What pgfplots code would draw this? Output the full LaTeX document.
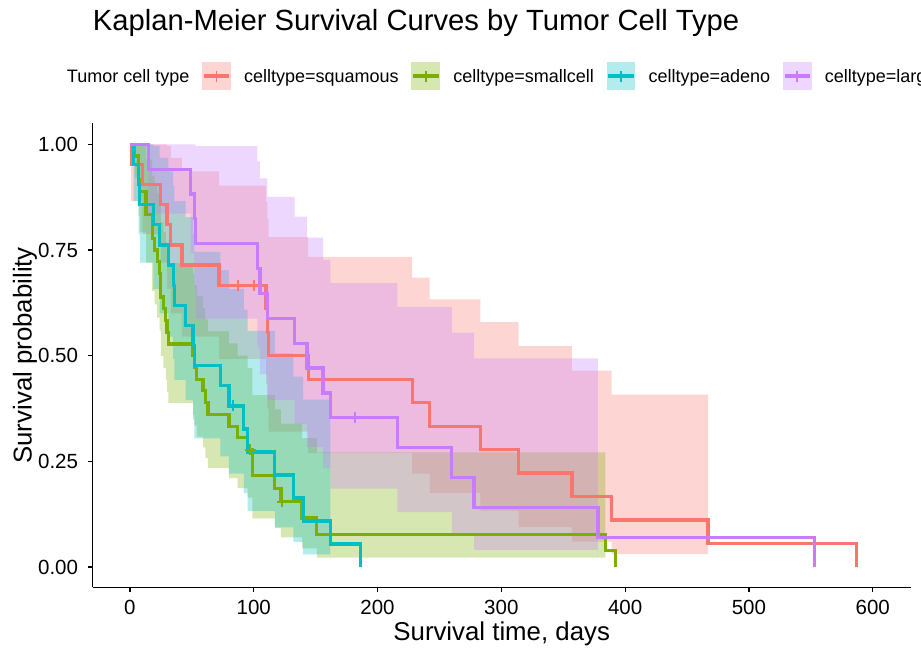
\documentclass[border=0pt]{standalone}
\usepackage{fontspec}
\setmainfont{Liberation Sans}
\usepackage{pgfplots}
\pgfplotsset{compat=1.18}
\usepackage{pgfplotstable}
\usepgfplotslibrary{fillbetween}

\definecolor{csq}{HTML}{F8766D}
\definecolor{csm}{HTML}{7CAE00}
\definecolor{cad}{HTML}{00BFC4}
\definecolor{cla}{HTML}{C77CFF}

% Kaplan-Meier estimates with 95% log CIs
\pgfplotstableread{
t S lo up
0 1 1 1
1 0.95238 0.86551 1
10 0.90476 0.78753 1
25 0.85714 0.71981 1
30 0.80952 0.65785 0.99617
33 0.76190 0.59987 0.96770
42 0.71429 0.54498 0.93616
72 0.66667 0.49267 0.90211
110 0.61111 0.43183 0.86482
111 0.55556 0.37452 0.82410
112 0.5 0.32035 0.78039
144 0.44444 0.26915 0.73390
228 0.38889 0.22084 0.68480
242 0.33333 0.17549 0.63315
283 0.27778 0.13325 0.57907
314 0.22222 0.09447 0.52274
357 0.16667 0.05977 0.46478
389 0.11111 0.03026 0.40803
467 0.05556 0.00830 0.37170
587 0 nan nan
}\sq

\pgfplotstableread{
t S lo up
0 1 1 1
4 0.97222 0.91999 1
7 0.91667 0.83068 1
8 0.88889 0.79193 0.99772
13 0.83333 0.72007 0.96442
18 0.77778 0.65317 0.92616
20 0.75 0.62109 0.90567
22 0.72222 0.58977 0.88441
24 0.69444 0.55915 0.86246
25 0.63889 0.49977 0.81675
27 0.61111 0.47092 0.79304
29 0.58333 0.44260 0.76882
30 0.55556 0.41480 0.74408
31 0.52778 0.38748 0.71887
51 0.5 0.36066 0.69318
52 0.47222 0.33432 0.66701
54 0.44444 0.30846 0.64037
59 0.41667 0.28309 0.61327
61 0.38889 0.25822 0.58569
63 0.36111 0.23385 0.55763
80 0.33333 0.21001 0.52907
87 0.30556 0.18673 0.50001
95 0.27778 0.16404 0.47039
99 0.21605 0.11484 0.40646
117 0.18519 0.09190 0.37315
122 0.15432 0.07027 0.33891
139 0.11574 0.04392 0.30502
151 0.07716 0.02196 0.27112
384 0.03858 0.00594 0.25053
392 0 nan nan
}\sm

\pgfplotstableread{
t S lo up
0 1 1 1
3 0.95238 0.86551 1
7 0.90476 0.78753 1
8 0.85714 0.71981 1
19 0.80952 0.65785 0.99617
24 0.76190 0.59987 0.96770
31 0.71429 0.54498 0.93616
35 0.66667 0.49267 0.90211
36 0.61905 0.44259 0.86585
45 0.57143 0.39454 0.82762
51 0.52381 0.34839 0.78757
52 0.47619 0.30406 0.74577
73 0.42857 0.26154 0.70228
80 0.38095 0.22084 0.65716
92 0.32653 0.17504 0.60913
95 0.27211 0.13260 0.55840
117 0.21769 0.09380 0.50523
132 0.16327 0.05920 0.45024
140 0.10884 0.02990 0.39618
162 0.05442 0.00818 0.36192
186 0 nan nan
}\ad

\pgfplotstableread{
t S lo up
0 1 1 1
15 0.94118 0.83572 1
49 0.88235 0.74175 1
52 0.82353 0.66087 1
53 0.76471 0.58746 0.99543
103 0.70588 0.51936 0.95939
105 0.64706 0.45548 0.91923
111 0.58824 0.39521 0.87556
133 0.52941 0.33818 0.82879
143 0.47059 0.28423 0.77916
156 0.41176 0.23328 0.72681
162 0.35294 0.18542 0.67181
216 0.28235 0.12960 0.61514
260 0.21176 0.08088 0.55448
278 0.14118 0.04038 0.49360
378 0.07059 0.01091 0.45685
553 0 nan nan
}\la

\pgfplotsset{
  km legend/.style={
    legend image code/.code={
      \fill[draw=none, fill opacity=0.3] (0bp,-14.3bp) rectangle (28.6bp,14.3bp);
      \draw[line width=3.4bp] (1.5bp,0bp) -- (27.1bp,0bp);
      \draw[line width=1.8bp] (14.3bp,-5.5bp) -- (14.3bp,5.5bp);
    }
  }
}

\begin{document}
\begin{tikzpicture}
\begin{axis}[
  at={(92.7bp,70.7bp)}, anchor=south west,
  scale only axis, width=818bp, height=464bp,
  xmin=-30.05, xmax=630.65, ymin=-0.048, ymax=1.0497,
  axis x line*=bottom, axis y line*=left,
  axis line style={line width=1.2bp, black, -},
  xtick={0,100,200,300,400,500,600},
  xticklabels={0,100,200,300,400,500,600},
  ytick={0,0.25,0.5,0.75,1},
  yticklabels={0.00,0.25,0.50,0.75,1.00},
  tick align=outside, major tick length=4.5bp,
  tick style={line width=1.2bp, black},
  /pgf/number format/assume math mode=true,
  ticklabel style={font=\fontsize{20.5bp}{24bp}\selectfont, inner sep=0pt},
  xticklabel style={yshift=-8bp},
  yticklabel style={xshift=-10bp},
  xlabel={Survival time, days},
  ylabel={Survival probability},
  label style={font=\fontsize{25.8bp}{30bp}\selectfont, inner sep=0pt},
  xlabel style={at={(axis description cs:0.5,-0.1157)}, anchor=base},
  ylabel style={at={(axis description cs:-0.07457,0.5)}, anchor=base},
  every axis title shift=0pt,
  title={Kaplan-Meier Survival Curves by Tumor Cell Type},
  title style={at={(axis description cs:0,1.199)}, anchor=base west, inner sep=0pt,
    font=\fontsize{29.2bp}{34bp}\selectfont},
  legend columns=5,
  legend style={at={(axis description cs:-0.0474,1.1019)}, anchor=west,
    draw=none, fill=none, inner sep=0pt, outer sep=0pt,
    font=\fontsize{18bp}{21bp}\selectfont,
    nodes={inner sep=0pt, text depth=0pt, text height=13.6bp},
    /tikz/every odd column/.append style={column sep=13bp},
    /tikz/every even column/.append style={column sep=12.7bp}},
  legend cell align=left,
]
\addlegendimage{empty legend}\addlegendentry{Tumor cell type}
\addlegendimage{km legend, csq}\addlegendentry{celltype=squamous}
\addlegendimage{km legend, csm}\addlegendentry{celltype=smallcell}
\addlegendimage{km legend, cad}\addlegendentry{celltype=adeno}
\addlegendimage{km legend, cla}\addlegendentry{celltype=large}

% survival curves
\addplot[csq, line width=3.2bp, const plot] table[x=t,y=S]{\sq};
\addplot[csm, line width=3.2bp, const plot] table[x=t,y=S]{\sm};
\addplot[cad, line width=3.2bp, const plot] table[x=t,y=S]{\ad};
\addplot[cla, line width=3.2bp, const plot] table[x=t,y=S]{\la};

% confidence ribbons
\addplot[draw=none, const plot, name path=sqU] table[x=t,y=up]{\sq};
\addplot[draw=none, const plot, name path=sqL] table[x=t,y=lo]{\sq};
\addplot[fill=csq, fill opacity=0.3, draw=none] fill between[of=sqU and sqL];
\addplot[draw=none, const plot, name path=smU] table[x=t,y=up]{\sm};
\addplot[draw=none, const plot, name path=smL] table[x=t,y=lo]{\sm};
\addplot[fill=csm, fill opacity=0.3, draw=none] fill between[of=smU and smL];
\addplot[draw=none, const plot, name path=adU] table[x=t,y=up]{\ad};
\addplot[draw=none, const plot, name path=adL] table[x=t,y=lo]{\ad};
\addplot[fill=cad, fill opacity=0.3, draw=none] fill between[of=adU and adL];
\addplot[draw=none, const plot, name path=laU] table[x=t,y=up]{\la};
\addplot[draw=none, const plot, name path=laL] table[x=t,y=lo]{\la};
\addplot[fill=cla, fill opacity=0.3, draw=none] fill between[of=laU and laL];

% censoring marks
\addplot[only marks, mark=+, mark size=5.5bp, csq, mark options={line width=2bp}] coordinates {(87,0.66667) (100,0.66667)};
\addplot[only marks, mark=+, mark size=5.5bp, csm, mark options={line width=2bp}] coordinates {(97,0.27778) (123,0.15432)};
\addplot[only marks, mark=+, mark size=5.5bp, cad, mark options={line width=2bp}] coordinates {(83,0.38095)};
\addplot[only marks, mark=+, mark size=5.5bp, cla, mark options={line width=2bp}] coordinates {(182,0.35294)};
\end{axis}
\pgfresetboundingbox
\path[use as bounding box] (0bp,0bp) rectangle (921bp,658bp);
\end{tikzpicture}
\end{document}
